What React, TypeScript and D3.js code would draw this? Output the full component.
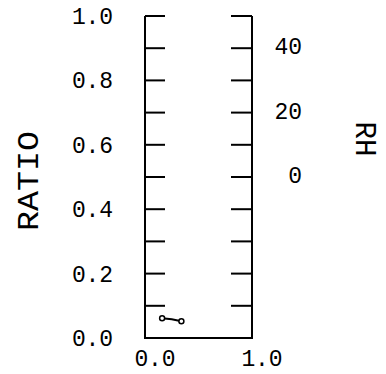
import React, { useEffect, useRef } from "react";
import * as d3 from "d3";

// ratio axis ticks (left) and rh axis labels (right)
const ratioTicks = [0, 0.1, 0.2, 0.3, 0.4, 0.5, 0.6, 0.7, 0.8, 0.9, 1.0];
const ratioLabels = [0, 0.2, 0.4, 0.6, 0.8, 1.0];
const rhLabels = [0, 20, 40];
const xLabels = [0, 1.0];

// the little trace near the bottom
const traceX = [0.16, 0.25, 0.34];
const traceY = [0.061, 0.058, 0.052];

const W = 386;
const H = 374;

const App = () => {
  const ref = useRef<SVGSVGElement>(null);

  useEffect(() => {
    const svg = d3.select(ref.current);
    svg.selectAll("*").remove();

    const left = 145;
    const right = 252;
    const top = 16;
    const bottom = 338;
    const font = "'Liberation Mono', 'DejaVu Sans Mono', monospace";

    const x = d3.scaleLinear().domain([0, 1]).range([left, right]);
    const y = d3.scaleLinear().domain([0, 1]).range([bottom, top]);
    const rh = d3.scaleLinear().domain([-50, 50]).range([bottom, top]);

    const g = svg.append("g");

    // frame
    g.append("path")
      .attr("d", `M${left},${top}V${bottom}H${right}V${top}`)
      .attr("fill", "none")
      .attr("stroke", "#000")
      .attr("stroke-width", 2);

    // inward ticks on both sides
    g.selectAll(".tl")
      .data(ratioTicks)
      .enter()
      .append("line")
      .attr("x1", left)
      .attr("x2", left + 20)
      .attr("y1", (d) => y(d))
      .attr("y2", (d) => y(d))
      .attr("stroke", "#000")
      .attr("stroke-width", 2);

    g.selectAll(".tr")
      .data(ratioTicks)
      .enter()
      .append("line")
      .attr("x1", right - 21)
      .attr("x2", right)
      .attr("y1", (d) => y(d))
      .attr("y2", (d) => y(d))
      .attr("stroke", "#000")
      .attr("stroke-width", 2);

    g.selectAll(".ly")
      .data(ratioLabels)
      .enter()
      .append("text")
      .attr("x", 113)
      .attr("y", (d) => y(d) + 2)
      .attr("text-anchor", "end")
      .attr("dominant-baseline", "middle")
      .attr("font-family", font)
      .attr("font-size", 23)
      .attr("textLength", 41)
      .attr("lengthAdjust", "spacing")
      .text((d) => d.toFixed(1));

    g.selectAll(".lx")
      .data(xLabels)
      .enter()
      .append("text")
      .attr("x", (d) => x(d) + 10)
      .attr("y", 366)
      .attr("text-anchor", "middle")
      .attr("font-family", font)
      .attr("font-size", 23)
      .attr("textLength", 41)
      .attr("lengthAdjust", "spacing")
      .text((d) => d.toFixed(1));

    g.selectAll(".lr")
      .data(rhLabels)
      .enter()
      .append("text")
      .attr("x", 302)
      .attr("y", (d) => rh(d))
      .attr("text-anchor", "end")
      .attr("dominant-baseline", "middle")
      .attr("font-family", font)
      .attr("font-size", 23)
      .text((d) => String(d));

    // axis titles
    g.append("text")
      .attr("transform", "translate(38,181) rotate(-90)")
      .attr("text-anchor", "middle")
      .attr("font-family", font)
      .attr("font-size", 30)
      .attr("textLength", 100)
      .attr("lengthAdjust", "spacingAndGlyphs")
      .text("RATIO");

    g.append("text")
      .attr("transform", "translate(356,139) rotate(90)")
      .attr("text-anchor", "middle")
      .attr("font-family", font)
      .attr("font-size", 30)
      .attr("textLength", 35)
      .attr("lengthAdjust", "spacingAndGlyphs")
      .text("RH");

    // trace
    const pts = traceX.map((v, i) => [v, traceY[i]] as [number, number]);
    const line = d3
      .line<[number, number]>()
      .x((d) => x(d[0]))
      .y((d) => y(d[1]));
    g.append("path")
      .attr("d", line(pts) as string)
      .attr("fill", "none")
      .attr("stroke", "#000")
      .attr("stroke-width", 2);
    g.selectAll(".pt")
      .data([pts[0], pts[pts.length - 1]])
      .enter()
      .append("circle")
      .attr("cx", (d) => x(d[0]))
      .attr("cy", (d) => y(d[1]))
      .attr("r", 2.5)
      .attr("fill", "#fff")
      .attr("stroke", "#000")
      .attr("stroke-width", 1.5);
  });

  return (
    <svg
      ref={ref}
      width={W}
      height={H}
      style={{ position: "absolute", left: 0, top: 0, background: "#fff" }}
    />
  );
};

export default App;
